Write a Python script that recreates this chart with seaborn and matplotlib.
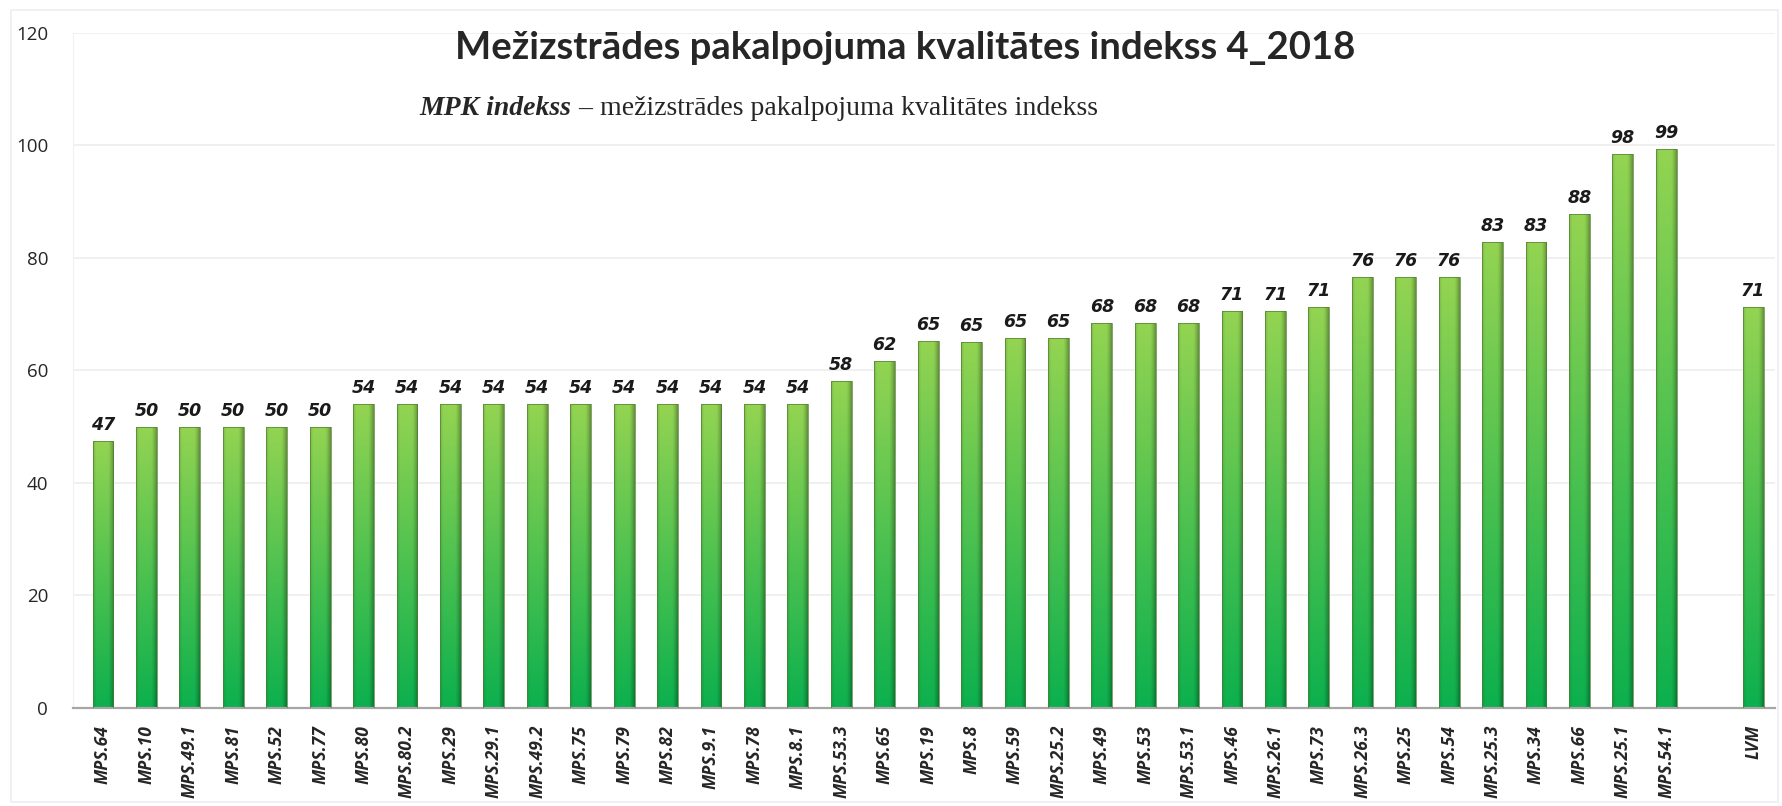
import matplotlib
matplotlib.use("Agg")
import matplotlib.pyplot as plt
import matplotlib.patches as mpatches
import seaborn as sns
import pandas as pd
import numpy as np

# values
units = ["MPS.64", "MPS.10", "MPS.49.1", "MPS.81", "MPS.52", "MPS.77", "MPS.80",
         "MPS.80.2", "MPS.29", "MPS.29.1", "MPS.49.2", "MPS.75", "MPS.79", "MPS.82",
         "MPS.9.1", "MPS.78", "MPS.8.1", "MPS.53.3", "MPS.65", "MPS.19", "MPS.8",
         "MPS.59", "MPS.25.2", "MPS.49", "MPS.53", "MPS.53.1", "MPS.46", "MPS.26.1",
         "MPS.73", "MPS.26.3", "MPS.25", "MPS.54", "MPS.25.3", "MPS.34", "MPS.66",
         "MPS.25.1", "MPS.54.1", "LVM"]
index_vals = [47.4, 50.0, 50.0, 50.0, 50.0, 50.0, 54.0, 54.0, 54.0, 54.0, 54.0, 54.0,
              54.0, 54.0, 54.0, 54.0, 54.0, 58.2, 61.7, 65.2, 65.1, 65.7, 65.7, 68.4,
              68.4, 68.4, 70.6, 70.6, 71.3, 76.6, 76.6, 76.6, 82.8, 82.8, 87.8, 98.5,
              99.3, 71.3]
# data labels as printed on the chart
labels = ["47", "50", "50", "50", "50", "50", "54", "54", "54", "54", "54", "54",
          "54", "54", "54", "54", "54", "58", "62", "65", "65", "65", "65", "68",
          "68", "68", "71", "71", "71", "76", "76", "76", "83", "83", "88", "98",
          "99", "71"]

df = pd.DataFrame({"unit": units, "index": index_vals})
order = units[:-1] + [" "] + ["LVM"]  # empty slot before LVM

sns.set_style("white")
fig = plt.figure(figsize=(17.82, 8.06), dpi=100)
ax = fig.add_axes([0.041, 0.1216, 0.955, 0.8375])

sns.barplot(data=df, x="unit", y="index", order=order, width=0.48,
            color="#7fcc50", errorbar=None, ax=ax)

# gradient fill on each bar
top = np.array([0x94, 0xd4, 0x52]) / 255
bot = np.array([0x0c, 0xb0, 0x4e]) / 255
t = np.linspace(0, 1, 200)[:, None]
vert = top[None, :] * (1 - t) + bot[None, :] * t
xs = np.linspace(0, 1, 40)
shade = 1 - 0.32 * np.clip((xs - 0.72) / 0.28, 0, 1) ** 1.5 - 0.12 * np.clip((0.15 - xs) / 0.15, 0, 1)
img = vert[:, None, :] * shade[None, :, None]

bars = [p for p in ax.patches if p.get_height() > 0]
for p in bars:
    x0, w, h = p.get_x(), p.get_width(), p.get_height()
    im = ax.imshow(img, extent=[x0, x0 + w, 0, h], aspect="auto", zorder=2,
                   interpolation="bilinear")
    im.set_clip_path(p)
    p.set_facecolor("none")
    p.set_edgecolor("#4f7f33")
    p.set_linewidth(0.5)
    p.set_zorder(3)

for p, lab in zip(bars, labels):
    ax.annotate(lab, (p.get_x() + p.get_width() / 2, p.get_height()),
                xytext=(0, 5), textcoords="offset points", ha="center", va="bottom",
                fontsize=12.5, fontweight="bold", fontstyle="italic",
                family="DejaVu Sans", color="#1a1a1a", zorder=4)

ax.set_ylim(0, 120)
ax.set_yticks(range(0, 121, 20))
ax.set_xlim(-0.69, 38.5)
ax.set_xlabel("")
ax.set_ylabel("")
ax.grid(axis="y", color="#eeeeee", lw=1.2, zorder=0)
ax.set_axisbelow(True)
for s in ["top", "right"]:
    ax.spines[s].set_visible(False)
ax.spines["left"].set_color("#f0f0f0")
ax.spines["bottom"].set_color("#a6a6a6")
ax.spines["bottom"].set_linewidth(1.6)
ax.tick_params(axis="both", length=0)
ax.tick_params(axis="y", pad=18)
ax.tick_params(axis="x", pad=12)
for lab in ax.get_yticklabels():
    lab.set_family("Open Sans")
    lab.set_fontsize(13.5)
ax.set_xticks(range(len(order)))
ax.set_xticklabels(order, rotation=90, fontsize=12.5, fontweight="bold",
                   fontstyle="italic", family="Open Sans", va="top")

fig.text(0.508, 0.94, "Mežizstrādes pakalpojuma kvalitātes indekss 4_2018",
         ha="center", va="center", fontsize=27.5, fontweight="bold", family="Lato")
t1 = fig.text(0.2356, 0.866, "MPK indekss", ha="left", va="center", fontsize=20,
              fontweight="bold", fontstyle="italic", family="Liberation Serif")
fig.canvas.draw()
bb = t1.get_window_extent().transformed(fig.transFigure.inverted())
fig.text(bb.x1, 0.866, " – mežizstrādes pakalpojuma kvalitātes indekss", ha="left",
         va="center", fontsize=20, family="Liberation Serif")

fig.patches.append(mpatches.Rectangle((0.006, 0.005), 0.992, 0.982, transform=fig.transFigure,
                                      fill=False, edgecolor="#eeeeee", lw=1.2))

fig.savefig("out.png", dpi=100)
plt.close(fig)
